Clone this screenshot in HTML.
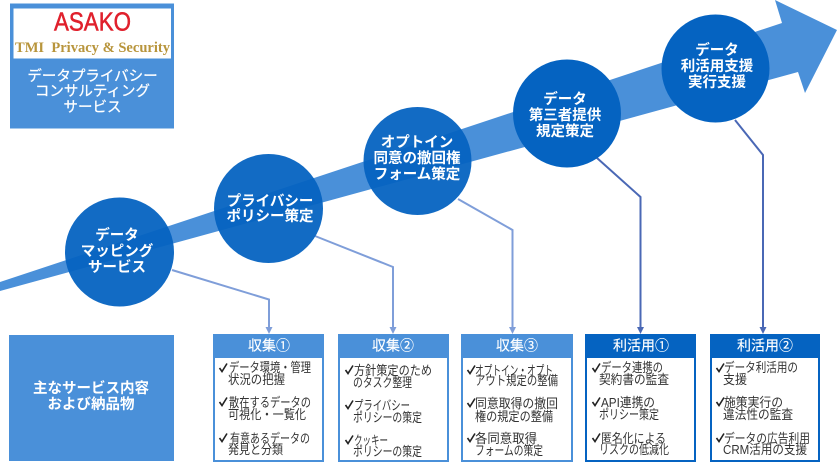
<!DOCTYPE html>
<html lang="ja"><head><meta charset="utf-8"><title>データプライバシー</title>
<style>
html,body{margin:0;padding:0;background:#fff;width:840px;height:465px;overflow:hidden}
svg{display:block;font-family:"Liberation Sans","Noto Sans CJK JP",sans-serif}
.w{fill:#fff;text-anchor:middle;font-weight:700;font-size:14.5px}
.h{fill:#fff;text-anchor:middle;font-size:14px;stroke:#fff;stroke-width:.15px}
</style></head><body>
<svg width="840" height="465" viewBox="0 0 840 465" xmlns="http://www.w3.org/2000/svg">
<rect x="10" y="3.5" width="164" height="125" fill="#4a90d9"/>
<rect x="13.5" y="8.5" width="157.5" height="50" fill="#fff"/>
<text x="54" y="30.5" font-size="26" fill="#e0202c" stroke="#e0202c" stroke-width=".5" textLength="77" lengthAdjust="spacingAndGlyphs">ASAKO</text>
<text x="15" y="52" font-size="15" font-weight="700" fill="#b8953c" style="font-family:'Liberation Serif',serif" textLength="155" lengthAdjust="spacingAndGlyphs" xml:space="preserve">TMI  Privacy &amp; Security</text>
<g style="fill:#fff;text-anchor:middle;font-size:14.5px;font-weight:400;stroke:#fff;stroke-width:.25px">
<text x="92.5" y="81">データプライバシー</text><text x="92.5" y="96">コンサルティング</text><text x="92.5" y="112">サービス</text></g>
<rect x="9" y="335" width="165" height="126" fill="#4a90d9"/>
<text class="w" x="91" y="393">主なサービス内容</text><text class="w" x="91" y="409">および納品物</text>

<polygon points="0,282 782,23 775,0 837,30 805,93 798,72 0,291" fill="#4a90d9"/>

<g fill="none" stroke-width="2">
<path d="M172,270 L269,299.5 V329" stroke="#7f9ed9"/>
<path d="M315,236 L393,267 V329" stroke="#7f9ed9"/>
<path d="M458,199 L512.5,230 V329" stroke="#7f9ed9"/>
<path d="M597,158 L640.5,197 V329" stroke="#4a68b5"/>
<path d="M735,120 L763,155 V329" stroke="#4a68b5"/>
</g>
<g fill="#7f9ed9"><polygon points="265.5,327 272.5,327 269,334"/><polygon points="389.5,327 396.5,327 393,334"/><polygon points="509,327 516,327 512.5,334"/></g>
<g fill="#4a68b5"><polygon points="637,327 644,327 640.5,334"/><polygon points="759.5,327 766.5,327 763,334"/></g>

<g fill="#0563c1">
<circle cx="119.5" cy="252" r="54.5" opacity=".95"/>
<circle cx="268.5" cy="208.5" r="54.5" opacity=".95"/>
<circle cx="417.5" cy="161" r="54" opacity=".95"/>
<circle cx="567" cy="113.5" r="54"/>
<circle cx="715.5" cy="68.5" r="54"/>
</g>
<text class="w" x="117" y="240">データ</text><text class="w" x="117" y="256">マッピング</text><text class="w" x="117" y="272">サービス</text>
<text class="w" x="270" y="206">プライバシー</text><text class="w" x="270" y="221">ポリシー策定</text>
<text class="w" x="417" y="147">オプトイン</text><text class="w" x="417" y="163">同意の撤回権</text><text class="w" x="417" y="179">フォーム策定</text>
<text class="w" x="565" y="104">データ</text><text class="w" x="565" y="120">第三者提供</text><text class="w" x="565" y="136">規定策定</text>
<text class="w" x="717" y="55">データ</text><text class="w" x="717" y="71">利活用支援</text><text class="w" x="717" y="87">実行支援</text>

<g fill="#fff" stroke-width="2">
<rect x="214" y="335" width="109" height="126" stroke="#4a90d9"/>
<rect x="339" y="335" width="109" height="126" stroke="#4a90d9"/>
<rect x="462" y="335" width="110" height="126" stroke="#4a90d9"/>
<rect x="586" y="335" width="109" height="126" stroke="#0563c1"/>
<rect x="711" y="335" width="108" height="126" stroke="#0563c1"/>
</g>
<rect x="213" y="334" width="111" height="24" fill="#4a90d9"/>
<rect x="338" y="334" width="111" height="24" fill="#4a90d9"/>
<rect x="461" y="334" width="112" height="24" fill="#4a90d9"/>
<rect x="585" y="334" width="111" height="24" fill="#0563c1"/>
<rect x="710" y="334" width="110" height="24" fill="#0563c1"/>
<text class="h" x="269" y="350.5">収集①</text><text class="h" x="393" y="350.5">収集②</text><text class="h" x="517" y="350.5">収集③</text><text class="h" x="641" y="350.5">利活用①</text><text class="h" x="765" y="350.5">利活用②</text>

<g fill="none" stroke="#222" stroke-width="1.6">
<path d="M219.5,368 l2.5,3.5 l5,-8"/><path d="M219.5,402 l2.5,3.5 l5,-8"/><path d="M219.5,438 l2.5,3.5 l5,-8"/>
<path d="M345.5,370 l2.5,3.5 l5,-8"/><path d="M345.5,405 l2.5,3.5 l5,-8"/><path d="M345.5,440 l2.5,3.5 l5,-8"/>
<path d="M467.5,370 l2.5,3.5 l5,-8"/><path d="M467.5,403 l2.5,3.5 l5,-8"/><path d="M467.5,438 l2.5,3.5 l5,-8"/>
<path d="M592.5,368 l2.5,3.5 l5,-8"/><path d="M592.5,402 l2.5,3.5 l5,-8"/><path d="M592.5,438 l2.5,3.5 l5,-8"/>
<path d="M716.5,368 l2.5,3.5 l5,-8"/><path d="M716.5,402 l2.5,3.5 l5,-8"/><path d="M716.5,438 l2.5,3.5 l5,-8"/>
</g>
<g style="fill:#333;font-size:13px" lengthAdjust="spacingAndGlyphs">
<text lengthAdjust="spacingAndGlyphs" x="229" y="372" textLength="82">データ環境・管理</text><text lengthAdjust="spacingAndGlyphs" x="228" y="384" textLength="57">状況の把握</text>
<text lengthAdjust="spacingAndGlyphs" x="229" y="407" textLength="82">散在するデータの</text><text lengthAdjust="spacingAndGlyphs" x="228" y="419" textLength="78">可視化・一覧化</text>
<text lengthAdjust="spacingAndGlyphs" x="230" y="443" textLength="80">有意あるデータの</text><text lengthAdjust="spacingAndGlyphs" x="228" y="454" textLength="55">発見と分類</text>

<text lengthAdjust="spacingAndGlyphs" x="354" y="375" textLength="78">方針策定のため</text><text lengthAdjust="spacingAndGlyphs" x="353" y="387" textLength="59">のタスク整理</text>
<text lengthAdjust="spacingAndGlyphs" x="354" y="410" textLength="56">プライバシー</text><text lengthAdjust="spacingAndGlyphs" x="353" y="422" textLength="69">ポリシーの策定</text>
<text lengthAdjust="spacingAndGlyphs" x="354" y="445" textLength="34">クッキー</text><text lengthAdjust="spacingAndGlyphs" x="353" y="456" textLength="69">ポリシーの策定</text>

<text lengthAdjust="spacingAndGlyphs" x="475" y="375" textLength="78">オプトイン・オプト</text><text lengthAdjust="spacingAndGlyphs" x="475" y="385" textLength="83">アウト規定の整備</text>
<text lengthAdjust="spacingAndGlyphs" x="475" y="408" textLength="83">同意取得の撤回</text><text lengthAdjust="spacingAndGlyphs" x="475" y="421" textLength="78">権の規定の整備</text>
<text lengthAdjust="spacingAndGlyphs" x="475" y="443" textLength="62">各同意取得</text><text lengthAdjust="spacingAndGlyphs" x="475" y="455" textLength="68">フォームの策定</text>

<text lengthAdjust="spacingAndGlyphs" x="601" y="372" textLength="62">データ連携の</text><text lengthAdjust="spacingAndGlyphs" x="599" y="384" textLength="70">契約書の監査</text>
<text lengthAdjust="spacingAndGlyphs" x="601" y="407" textLength="54">API連携の</text><text lengthAdjust="spacingAndGlyphs" x="599" y="419" textLength="60">ポリシー策定</text>
<text lengthAdjust="spacingAndGlyphs" x="601" y="443" textLength="65">匿名化による</text><text lengthAdjust="spacingAndGlyphs" x="599" y="454" textLength="70">リスクの低減化</text>

<text lengthAdjust="spacingAndGlyphs" x="724" y="372" textLength="74">データ利活用の</text><text lengthAdjust="spacingAndGlyphs" x="723" y="384" textLength="24">支援</text>
<text lengthAdjust="spacingAndGlyphs" x="724" y="407" textLength="59">施策実行の</text><text lengthAdjust="spacingAndGlyphs" x="723" y="419" textLength="70">違法性の監査</text>
<text lengthAdjust="spacingAndGlyphs" x="724" y="443" textLength="86">データの広告利用</text><text lengthAdjust="spacingAndGlyphs" x="723" y="454" textLength="84">CRM活用の支援</text>
</g>
</svg>
</body></html>
